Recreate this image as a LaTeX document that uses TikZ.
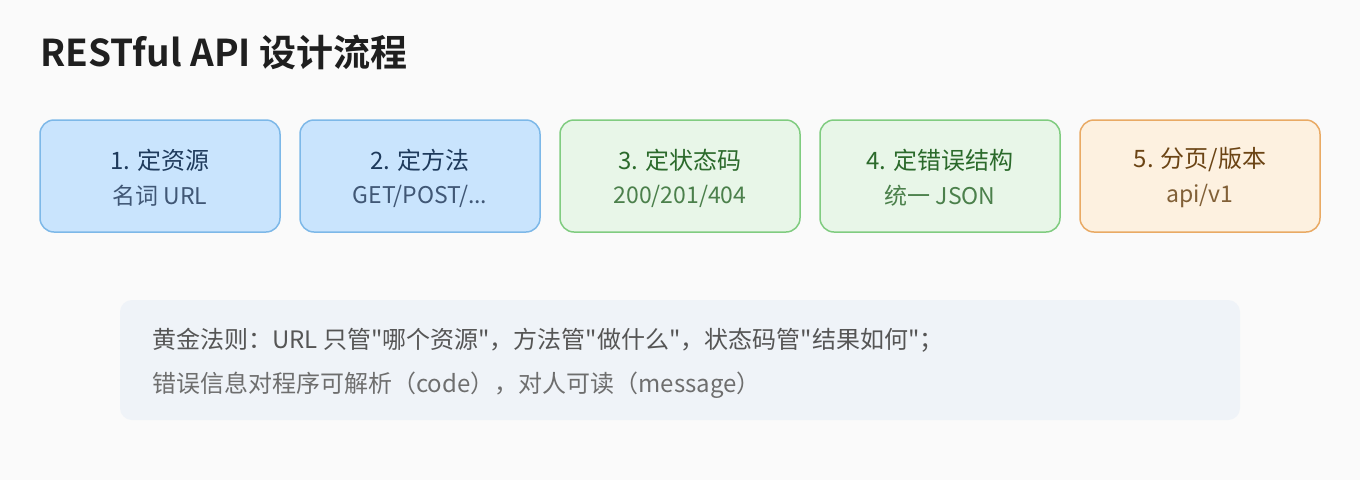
\documentclass[tikz,border=0pt]{standalone}
\usepackage{fontspec}
\setmainfont{Noto Sans CJK SC}[Ligatures=TeXOff]
\newfontfamily\titlefont{Noto Sans CJK SC}[BoldFont={* Bold}]
\definecolor{bgc}{HTML}{FAFAFA}
\definecolor{bluef}{HTML}{C9E4FD}
\definecolor{blued}{HTML}{7DB8E8}
\definecolor{bluet}{HTML}{1E3A5C}
\definecolor{greenf}{HTML}{E8F6E8}
\definecolor{greend}{HTML}{80CC80}
\definecolor{greent}{HTML}{2B6A2B}
\definecolor{orangef}{HTML}{FDF1E0}
\definecolor{oranged}{HTML}{E9AA64}
\definecolor{oranget}{HTML}{6B4414}
\definecolor{notef}{HTML}{EFF3F8}
\definecolor{notet}{HTML}{555555}
\tikzset{
  stepbox/.style={draw, line width=1.5pt, rounded corners=14pt, minimum width=240pt, minimum height=112pt, inner sep=0pt},
  lineone/.style={font=\fontsize{24pt}{28pt}\selectfont, anchor=center, inner sep=0pt},
  linetwo/.style={font=\fontsize{23pt}{27pt}\selectfont, anchor=center, inner sep=0pt},
  notetext/.style={font=\fontsize{24pt}{28pt}\selectfont, text=notet, anchor=west, inner sep=0pt},
}
\begin{document}
\begin{tikzpicture}[x=1pt,y=-1pt]
\fill[bgc] (0,0) rectangle (1360,480);
\useasboundingbox (0,0) rectangle (1360,480);
\node[anchor=west, inner sep=0pt, font=\titlefont\bfseries\fontsize{37pt}{43pt}\selectfont, text=black!88] (title) at (40,52) {RESTful API 设计流程};

\node[stepbox, fill=bluef, draw=blued] (b1) at (160,176) {};
\node[stepbox, fill=bluef, draw=blued] (b2) at (420,176) {};
\node[stepbox, fill=greenf, draw=greend] (b3) at (680,176) {};
\node[stepbox, fill=greenf, draw=greend] (b4) at (940,176) {};
\node[stepbox, fill=orangef, draw=oranged] (b5) at (1200,176) {};

\node[lineone, text=bluet] (t1a) at (160,160) {1. 定资源};
\node[linetwo, text=bluet!85] (t1b) at (160,196) {名词 URL};
\node[lineone, text=bluet] (t2a) at (420,160) {2. 定方法};
\node[linetwo, text=bluet!85] (t2b) at (420,196) {GET/POST/...};
\node[lineone, text=greent] (t3a) at (680,160) {3. 定状态码};
\node[linetwo, text=greent!85] (t3b) at (680,196) {200/201/404};
\node[lineone, text=greent] (t4a) at (940,160) {4. 定错误结构};
\node[linetwo, text=greent!85] (t4b) at (940,196) {统一 JSON};
\node[lineone, text=oranget] (t5a) at (1200,160) {5. 分页/版本};
\node[linetwo, text=oranget!85] (t5b) at (1200,196) {api/v1};

\node[fill=notef, rounded corners=12pt, minimum width=1120pt, minimum height=120pt, inner sep=0pt] (note) at (680,360) {};
\node[notetext] (n1) at (152,340) {黄金法则：URL 只管"哪个资源"，方法管"做什么"，状态码管"结果如何"；};
\node[notetext, text=notet!85] (n2) at (152,385) {错误信息对程序可解析（code），对人可读（message）};
\end{tikzpicture}
\end{document}
